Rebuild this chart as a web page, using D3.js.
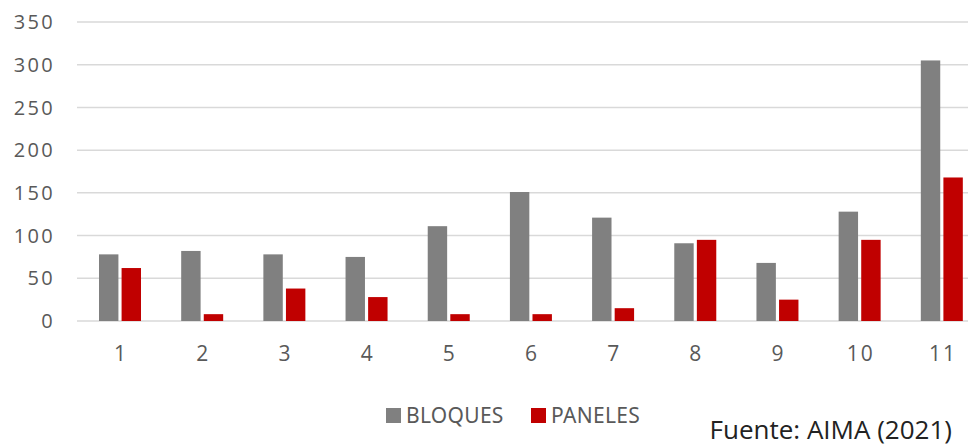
<!DOCTYPE html>
<html>
<head>
<meta charset="utf-8">
<script src="https://cdn.jsdelivr.net/npm/d3@7"></script>
<style>
  body { margin: 0; background: #fff; }
  text { font-family: "Open Sans", sans-serif; fill: #595959; }
</style>
</head>
<body>
<div id="chart"></div>
<script>
// data
const categories = ["1", "2", "3", "4", "5", "6", "7", "8", "9", "10", "11"]
const seriesNames = ["BLOQUES", "PANELES"]
const bloques = [78, 82, 78, 75, 111, 151, 121, 91, 68, 128, 305]
const paneles = [62, 8, 38, 28, 8, 8, 15, 95, 25, 95, 168]
const yTicks = [0, 50, 100, 150, 200, 250, 300, 350]
const colors = ["#808080", "#c00000"]
const source = "Fuente: AIMA (2021)"

const width = 968, height = 446

const svg = d3.select("#chart").append("svg")
    .attr("width", width)
    .attr("height", height)

// plot runs a bit past the right edge, like the cropped original
const x = d3.scaleBand()
    .domain(categories)
    .range([79, 983])

const x1 = d3.scaleBand()
    .domain(seriesNames)
    .range([20, 62])
    .paddingInner(0.14)

const y = d3.scaleLinear()
    .domain([0, 350])
    .range([321, 22])

// gridlines
svg.append("g")
    .selectAll("line")
    .data(yTicks)
    .enter()
    .append("line")
    .attr("x1", 77)
    .attr("x2", width)
    .attr("y1", d => y(d))
    .attr("y2", d => y(d))
    .attr("stroke", "#d9d9d9")
    .attr("stroke-width", 1.5)

// y labels
svg.append("g")
    .selectAll("text")
    .data(yTicks)
    .enter()
    .append("text")
    .attr("x", 55)
    .attr("y", d => y(d))
    .attr("dy", "0.36em")
    .attr("text-anchor", "end")
    .attr("font-size", "20px")
    .style("letter-spacing", "2.3px")
    .text(d => d)

// x labels
svg.append("g")
    .selectAll("text")
    .data(categories)
    .enter()
    .append("text")
    .attr("x", d => x(d) + x.bandwidth() / 2 + 1)
    .attr("y", 353)
    .attr("dy", "0.36em")
    .attr("text-anchor", "middle")
    .attr("font-size", "21px")
    .style("letter-spacing", "2px")
    .text(d => d)

// bars
const rows = categories.map((c, i) => ({ cat: c, values: [bloques[i], paneles[i]] }))

const groups = svg.append("g")
    .selectAll("g")
    .data(rows)
    .enter()
    .append("g")
    .attr("transform", d => "translate(" + x(d.cat) + ",0)")

groups.selectAll("rect")
    .data(d => d.values.map((v, j) => ({ name: seriesNames[j], value: v, j: j })))
    .enter()
    .append("rect")
    .attr("x", d => x1(d.name))
    .attr("y", d => y(d.value))
    .attr("width", x1.bandwidth())
    .attr("height", d => y(0) - y(d.value))
    .attr("fill", d => colors[d.j])

// legend
const legendX = [386, 531]
const legend = svg.append("g")
    .selectAll("g")
    .data(seriesNames)
    .enter()
    .append("g")
    .attr("transform", (d, i) => "translate(" + legendX[i] + ",408)")

legend.append("rect")
    .attr("width", 15)
    .attr("height", 15)
    .attr("fill", (d, i) => colors[i])

legend.append("text")
    .attr("x", 20)
    .attr("y", 15)
    .attr("font-size", "21px")
    .style("font-family", "'Noto Sans', sans-serif")
    .style("letter-spacing", "0.3px")
    .text(d => d)

// source note
svg.append("text")
    .attr("x", 952)
    .attr("y", 439)
    .attr("text-anchor", "end")
    .attr("font-size", "26px")
    .style("fill", "#222")
    .text(source)
</script>
</body>
</html>
